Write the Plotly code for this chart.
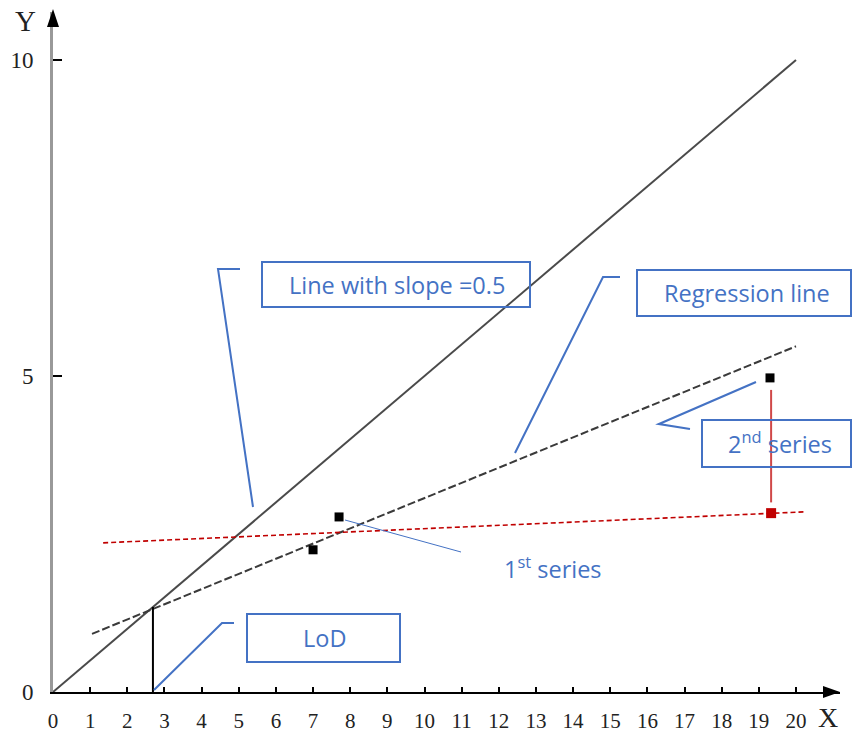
import plotly.graph_objects as go

# ---------------- data ----------------
slope_x = [0, 20]
slope_y = [0, 10]

reg_x = [1.05, 20.0]
reg_y = [0.92, 5.47]

red_x = [1.35, 20.2]
red_y = [2.36, 2.85]

series1_x = [7.0, 7.7, 19.3]
series1_y = [2.25, 2.77, 4.97]

series2_x = [19.33]
series2_y = [2.83]

red_link_x = [19.33, 19.33]
red_link_y = [4.78, 3.0]

lod_x = [2.69, 2.69]
lod_y = [0, 1.345]

x_ticks = list(range(0, 21))
y_ticks = [0, 5, 10]

# ---------------- geometry helpers ----------------
W, H = 853, 734
ML, MR, MT, MB = 53, 13, 12, 42
PW, PH = W - ML - MR, H - MT - MB
XPX, YPX = 37.15, 63.2          # pixels per data unit
XMAX, YMAX = PW / XPX, PH / YPX

def px(x):  # pixel x -> paper
    return (x - ML) / PW

def py(y):  # pixel y -> paper
    return (H - MB - y) / PH

BLUE = "#4472C4"
RED = "#C00000"

fig = go.Figure()

fig.add_trace(go.Scatter(x=slope_x, y=slope_y, mode="lines",
                         line=dict(color="#4a4a4a", width=2), hoverinfo="skip"))
fig.add_trace(go.Scatter(x=reg_x, y=reg_y, mode="lines",
                         line=dict(color="#3a3a3a", width=2, dash="8px,3px"), hoverinfo="skip"))
fig.add_trace(go.Scatter(x=red_x, y=red_y, mode="lines",
                         line=dict(color=RED, width=1.6, dash="5px,3px"), hoverinfo="skip"))
fig.add_trace(go.Scatter(x=red_link_x, y=red_link_y, mode="lines",
                         line=dict(color="#d04848", width=2), hoverinfo="skip"))
fig.add_trace(go.Scatter(x=lod_x, y=lod_y, mode="lines",
                         line=dict(color="black", width=2), hoverinfo="skip"))
fig.add_trace(go.Scatter(x=series1_x, y=series1_y, mode="markers",
                         marker=dict(symbol="square", size=9, color="black"), hoverinfo="skip"))
fig.add_trace(go.Scatter(x=series2_x, y=series2_y, mode="markers",
                         marker=dict(symbol="square", size=10, color=RED), hoverinfo="skip"))

shapes = []
# axis arrowheads
shapes.append(dict(type="path", xref="paper", yref="paper",
                   path=f"M {px(840)} {py(692)} L {px(823)} {py(686)} L {px(823)} {py(698)} Z",
                   fillcolor="black", line=dict(width=0)))
shapes.append(dict(type="path", xref="paper", yref="paper",
                   path=f"M {px(53)} {py(9)} L {px(47)} {py(27)} L {px(59)} {py(27)} Z",
                   fillcolor="black", line=dict(width=0)))

# callout boxes
boxes = [(262, 262, 530, 307), (637, 270, 851, 316), (702, 420, 851, 467), (247, 614, 400, 662)]
for x0, y0, x1, y1 in boxes:
    shapes.append(dict(type="rect", xref="paper", yref="paper",
                       x0=px(x0), x1=px(x1), y0=py(y1), y1=py(y0),
                       line=dict(color=BLUE, width=2), fillcolor="rgba(0,0,0,0)"))

leaders = [
    ([(253, 507), (218, 269), (240, 269)], 2),
    ([(515, 453), (603, 277), (620, 277)], 2),
    ([(756, 382), (659, 424), (690, 429)], 2.2),
    ([(154, 690), (222, 623), (234, 623)], 2),
    ([(345, 520), (461, 552)], 1),
]
for pts, w in leaders:
    path = "M " + " L ".join(f"{px(a)} {py(b)}" for a, b in pts)
    shapes.append(dict(type="path", xref="paper", yref="paper", path=path,
                       line=dict(color=BLUE, width=w)))

ann = []
texts = [
    ("Line with slope =0.5", 397, 285),
    ("Regression line", 747, 293),
    ("2<sup>nd</sup> series", 780, 442),
    ("1<sup>st</sup> series", 553, 567),
    ("LoD", 324, 638),
]
for t, x, y in texts:
    ann.append(dict(text=t, x=px(x), y=py(y), xref="paper", yref="paper",
                    showarrow=False, xanchor="center", yanchor="middle",
                    font=dict(family="Open Sans", size=23.5, color=BLUE)))
ann.append(dict(text="Y", x=px(26), y=py(21), xref="paper", yref="paper", showarrow=False,
                xanchor="center", yanchor="middle",
                font=dict(family="Liberation Serif", size=29, color="#222")))
ann.append(dict(text="X", x=px(828), y=py(717), xref="paper", yref="paper", showarrow=False,
                xanchor="center", yanchor="middle",
                font=dict(family="Liberation Serif", size=28, color="#222")))

fig.update_layout(
    width=W, height=H,
    margin=dict(l=ML, r=MR, t=MT, b=MB, pad=0, autoexpand=False),
    paper_bgcolor="white", plot_bgcolor="white",
    showlegend=False,
    shapes=shapes, annotations=ann,
    xaxis=dict(range=[0, XMAX], tickvals=x_ticks, ticktext=[str(v) for v in x_ticks],
               showgrid=False, zeroline=False, showline=True, linecolor="black", linewidth=2,
               ticks="inside", ticklen=5, tickwidth=1.5, tickcolor="black",
               tickfont=dict(family="Liberation Serif", size=21, color="#222"),
               ticklabelstandoff=9, fixedrange=True, automargin=False),
    yaxis=dict(range=[0, YMAX], tickvals=y_ticks, ticktext=[str(v) for v in y_ticks],
               showgrid=False, zeroline=False, showline=True, linecolor="#999", linewidth=3,
               ticks="inside", ticklen=9, tickwidth=2, tickcolor="black",
               tickfont=dict(family="Liberation Serif", size=23, color="#222"),
               ticklabelstandoff=12, fixedrange=True, automargin=False),
)

fig.write_html(
    "out.html",
    config={"displayModeBar": False},
    post_script="document.body.style.margin='0';document.body.style.overflow='hidden';",
)
